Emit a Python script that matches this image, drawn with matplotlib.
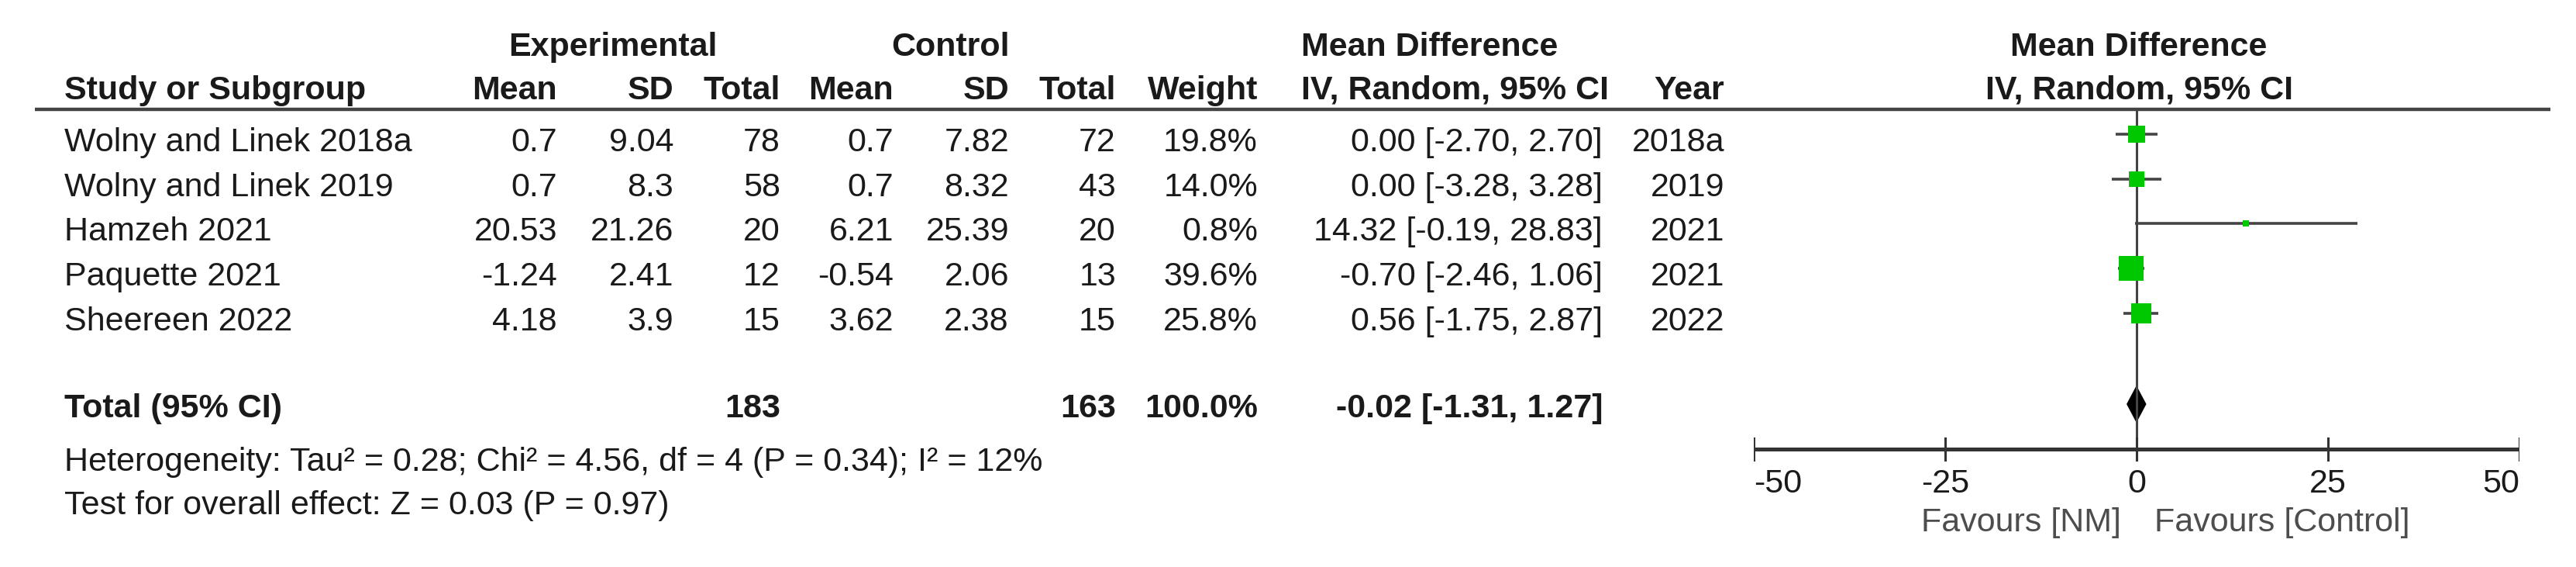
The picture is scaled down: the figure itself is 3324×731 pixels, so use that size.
import matplotlib.pyplot as plt
import numpy as np

plt.rcParams['font.family'] = ['Liberation Sans', 'DejaVu Sans']

studies = ["Wolny and Linek 2018a", "Wolny and Linek 2019", "Hamzeh 2021",
           "Paquette 2021", "Sheereen 2022"]
exp_mean = [0.7, 0.7, 20.53, -1.24, 4.18]
exp_sd = [9.04, 8.3, 21.26, 2.41, 3.9]
exp_n = [78, 58, 20, 12, 15]
ctrl_mean = [0.7, 0.7, 6.21, -0.54, 3.62]
ctrl_sd = [7.82, 8.32, 25.39, 2.06, 2.38]
ctrl_n = [72, 43, 20, 13, 15]
weight = [19.8, 14.0, 0.8, 39.6, 25.8]
md = [0.00, 0.00, 14.32, -0.70, 0.56]
ci_lo = [-2.70, -3.28, -0.19, -2.46, -1.75]
ci_hi = [2.70, 3.28, 28.83, 1.06, 2.87]
years = ["2018a", "2019", "2021", "2021", "2022"]

total_exp_n = 183
total_ctrl_n = 163
total_weight = 100.0
total_md = -0.02
total_lo = -1.31
total_hi = 1.27

heterogeneity = "Heterogeneity: Tau² = 0.28; Chi² = 4.56, df = 4 (P = 0.34); I² = 12%"
overall = "Test for overall effect: Z = 0.03 (P = 0.97)"
ticks = [-50, -25, 0, 25, 50]

W, H = 3324, 731
FS = 31
TXT = '#1a1a1a'
LINE = '#444444'
GREEN = '#00c800'

fig = plt.figure(figsize=(W / 100, H / 100), dpi=100)
ax = fig.add_axes([0, 0, 1, 1])
ax.set_xlim(0, W)
ax.set_ylim(H, 0)
ax.axis('off')

# forest panel: x in data units (-50..50), y in pixel rows
x0, x1 = 2263, 3251
fx = fig.add_axes([x0 / W, 0, (x1 - x0) / W, 1])
fx.set_xlim(-50, 50)
fx.set_ylim(H, 0)
fx.axis('off')

def t(x, y, s, ha='right', bold=False, color=TXT):
    ax.text(x, y, s, ha=ha, va='baseline', fontsize=FS,
            fontweight='bold' if bold else 'normal', color=color)

# headers
t(791, 72, "Experimental", ha='center', bold=True)
t(1226, 72, "Control", ha='center', bold=True)
t(1679, 72, "Mean Difference", ha='left', bold=True)
t(2760, 72, "Mean Difference", ha='center', bold=True)
t(83, 128, "Study or Subgroup", ha='left', bold=True)
cols = [719, 869, 1007, 1153, 1302, 1440, 1623]
for x, s in zip(cols, ["Mean", "SD", "Total", "Mean", "SD", "Total", "Weight"]):
    t(x, 128, s, bold=True)
t(1679, 128, "IV, Random, 95% CI", ha='left', bold=True)
t(2225, 128, "Year", bold=True)
t(2760, 128, "IV, Random, 95% CI", ha='center', bold=True)

ax.plot([45, 3291], [141, 141], color=LINE, lw=3.2, solid_capstyle='butt')

# study rows
base0, step = 195, 57.7
row_base = [base0 + i * step for i in range(len(studies))]
for i, yb in enumerate(row_base):
    t(83, yb, studies[i], ha='left')
    vals = [str(exp_mean[i]), str(exp_sd[i]), str(exp_n[i]),
            str(ctrl_mean[i]), str(ctrl_sd[i]), str(ctrl_n[i]),
            f"{weight[i]:.1f}%"]
    for x, s in zip(cols, vals):
        t(x, yb, s)
    t(2068, yb, f"{md[i]:.2f} [{ci_lo[i]:.2f}, {ci_hi[i]:.2f}]")
    t(2225, yb, years[i])

# totals
yt = 538
t(83, yt, "Total (95% CI)", ha='left', bold=True)
t(1007, yt, str(total_exp_n), bold=True)
t(1440, yt, str(total_ctrl_n), bold=True)
t(1623, yt, f"{total_weight:.1f}%", bold=True)
t(2068, yt, f"{total_md:.2f} [{total_lo:.2f}, {total_hi:.2f}]", bold=True)
t(83, 607, heterogeneity, ha='left')
t(83, 663, overall, ha='left')

# forest plot
y_axis = 579
fx.plot([0, 0], [141, y_axis], color=LINE, lw=2.2)
for i, yb in enumerate(row_base):
    yc = yb - 22
    fx.plot([ci_lo[i], ci_hi[i]], [yc, yc], color=LINE, lw=2.6, solid_capstyle='butt')
    side = max(5.1 * np.sqrt(weight[i]), 8)
    fx.plot(md[i], yc, marker='s', ms=side * 0.72, color=GREEN, mec=GREEN, mew=0)

yd = yt - 17
fx.fill([total_lo, total_md, total_hi, total_md],
        [yd, yd - 24, yd, yd + 24], color='black', lw=0)

fx.plot([-50, 50], [y_axis, y_axis], color='#333333', lw=3.6, solid_capstyle='butt')
for v in ticks:
    fx.plot([v, v], [y_axis - 14, y_axis + 14], color='#333333', lw=2.2)
    ha = 'left' if v == ticks[0] else ('right' if v == ticks[-1] else 'center')
    fx.text(v, 635, str(v), ha=ha, va='baseline', fontsize=FS, color=TXT)

fx.text(-2.0, 685, "Favours [NM]", ha='right', va='baseline', fontsize=FS, color='#4d4d4d')
fx.text(2.3, 685, "Favours [Control]", ha='left', va='baseline', fontsize=FS, color='#4d4d4d')

fig.savefig("out.png", dpi=100, facecolor='white')
